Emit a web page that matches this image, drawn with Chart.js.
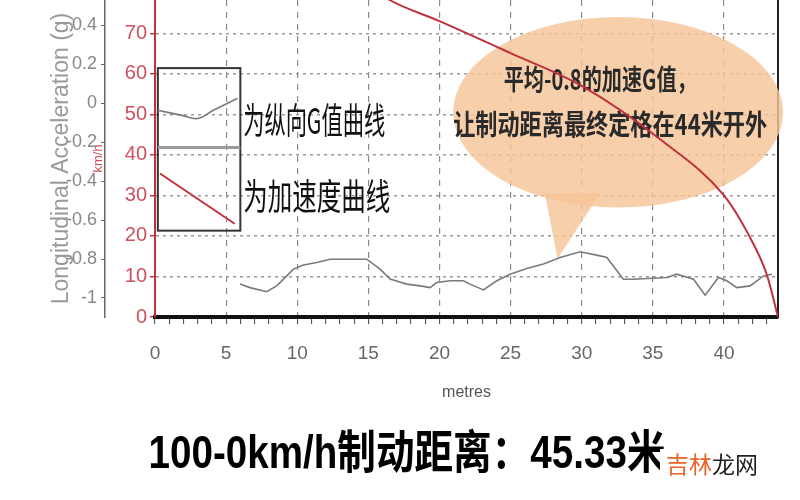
<!DOCTYPE html>
<html>
<head>
<meta charset="utf-8">
<script src="https://cdn.jsdelivr.net/npm/chart.js@4.4.0/dist/chart.umd.min.js"></script>
<style>
  html, body { margin: 0; padding: 0; background: #fff; }
  #wrap { width: 800px; height: 500px; position: relative; }
</style>
</head>
<body>
<div id="wrap"><canvas id="chart" width="800" height="500"></canvas></div>
<script>
// speed curve (km/h) against distance (m)
const speedDist = [0, 5, 10, 15, 16.5, 20, 25, 30, 35.6, 40, 41.7, 43, 43.8];
const speedKmh = [100, 94, 88, 82, 78.2, 73, 65.1, 57, 43.6, 30, 20.5, 10.6, 0];

// longitudinal G curve against distance (m)
const gDist = [5.98, 6.68, 7.85, 8.56, 9.73, 10.43, 11.37, 12.31, 14.89, 15.82, 16.53, 17.7, 18.64, 19.34,
  19.81, 20.75, 21.68, 22.15, 23.09, 24.03, 24.96, 26.14, 27.31, 28.48, 29.89, 31.29, 31.77, 32.93,
  33.64, 35.99, 36.69, 37.86, 38.68, 39.61, 40.2, 40.91, 41.84, 42.78, 43.37];
const gValue = [-0.929, -0.947, -0.968, -0.938, -0.852, -0.831, -0.818, -0.801, -0.801, -0.852, -0.903, -0.929, -0.938, -0.947,
  -0.921, -0.912, -0.912, -0.929, -0.959, -0.912, -0.878, -0.849, -0.826, -0.792, -0.763, -0.784, -0.792, -0.904,
  -0.904, -0.895, -0.878, -0.904, -0.986, -0.895, -0.912, -0.947, -0.938, -0.887, -0.878];

// little sample lines inside the legend box
const legendGDist = [0.2, 1.9, 3.0, 4.1, 5.8];
const legendGValue = [-0.036, -0.062, -0.078, -0.036, 0.026];
const legendSpeedDist = [0.35, 5.6];
const legendSpeedValue = [35.4, 23.0];

const xLabelStep = 5;
const legendLabels = ["为纵向G值曲线", "为加速度曲线"];
const noteLines = ["平均-0.8的加速G值，", "让制动距离最终定格在44米开外"];
const titleText = "100-0km/h制动距离：45.33米";

const RED = "#c0303e";
const CJK = '"Noto Sans CJK SC", sans-serif';
const LAT = '"Liberation Sans", "Noto Sans CJK SC", sans-serif';

function pts(xs, ys) { return xs.map((x, i) => ({ x: x, y: ys[i] })); }

function fixVertical(width) {
  return function (scale) {
    scale.width = width;
    scale.paddingTop = 0;
    scale.paddingBottom = 0;
  };
}

// legend box, callout bubble, big caption and watermark
const decor = {
  id: "decor",
  beforeDatasetsDraw(chart) {
    const ctx = chart.ctx;
    const xs = chart.scales.x, ys = chart.scales.y;
    const px = v => xs.getPixelForValue(v), py = v => ys.getPixelForValue(v);

    // bubble
    ctx.save();
    ctx.fillStyle = "rgba(246, 196, 152, 0.82)";
    ctx.beginPath();
    ctx.ellipse(px(32.56), py(50.5), px(32.56) - px(20.96), py(27) - py(50.5), 0, 0, Math.PI * 2);
    ctx.fill();
    ctx.beginPath();
    ctx.moveTo(px(27.4), py(30.5));
    ctx.lineTo(px(31.3), py(30.5));
    ctx.lineTo(px(28.3), py(14.4));
    ctx.closePath();
    ctx.fill();
    ctx.fillStyle = "#2a2a2a";
    ctx.textAlign = "center";
    ctx.textBaseline = "middle";
    ctx.font = "bold 28px " + CJK;
    ctx.fillText(noteLines[0], px(31.3), py(58.7), 193);
    ctx.fillText(noteLines[1], px(32.0), py(47.6), 314);

    // legend box
    ctx.strokeStyle = "#333";
    ctx.lineWidth = 2;
    ctx.strokeRect(px(0.2), py(61.4), px(6.0) - px(0.2), py(21.3) - py(61.4));
    ctx.strokeStyle = "#999";
    ctx.lineWidth = 3;
    ctx.beginPath();
    ctx.moveTo(px(0.2), py(41.8));
    ctx.lineTo(px(6.0), py(41.8));
    ctx.stroke();
    ctx.fillStyle = "#111";
    ctx.textAlign = "left";
    ctx.font = "36px " + CJK;
    ctx.fillText(legendLabels[0], px(6.2), py(48.6), 142);
    ctx.fillText(legendLabels[1], px(6.2), py(29.8), 147);
    ctx.restore();
  },
  afterDraw(chart) {
    const ctx = chart.ctx;
    ctx.save();
    ctx.textBaseline = "middle";
    ctx.textAlign = "center";
    ctx.fillStyle = "#000";
    ctx.font = "bold 46px " + LAT;
    ctx.fillText(titleText, 407, 455, 517);

    ctx.fillStyle = "#fff";
    ctx.fillRect(660, 449, 106, 30);
    ctx.font = "23px " + CJK;
    ctx.textAlign = "left";
    ctx.fillStyle = "#e8632a";
    ctx.fillText("吉林", 666, 464);
    ctx.fillStyle = "#222";
    ctx.fillText("龙网", 712, 464);
    ctx.restore();
  }
};

new Chart(document.getElementById("chart").getContext("2d"), {
  type: "line",
  data: {
    datasets: [
      { data: pts(speedDist, speedKmh), yAxisID: "y", borderColor: RED, borderWidth: 2, pointRadius: 0, cubicInterpolationMode: "monotone" },
      { data: pts(gDist, gValue), yAxisID: "yg", borderColor: "#7a7a7a", borderWidth: 1.6, pointRadius: 0, tension: 0 },
      { data: pts(legendGDist, legendGValue), yAxisID: "yg", borderColor: "#7a7a7a", borderWidth: 1.6, pointRadius: 0, tension: 0.4 },
      { data: pts(legendSpeedDist, legendSpeedValue), yAxisID: "y", borderColor: RED, borderWidth: 2, pointRadius: 0 }
    ]
  },
  options: {
    responsive: false,
    animation: false,
    layout: { padding: { top: 0, left: 0, right: 22, bottom: 88 } },
    plugins: {
      legend: { display: false },
      tooltip: { enabled: false }
    },
    scales: {
      x: {
        type: "linear",
        min: 0,
        max: 43.8,
        ticks: {
          stepSize: 1,
          autoSkip: false,
          maxRotation: 0,
          includeBounds: false,
          padding: 18,
          color: "#666",
          font: { family: LAT, size: 19 },
          callback: v => (v % xLabelStep === 0 ? String(v) : "")
        },
        grid: {
          color: c => (c.tick && c.tick.value % xLabelStep === 0 && c.tick.value !== 0 ? "#8a8a8a" : "transparent"),
          lineWidth: 1.2,
          tickColor: "#444",
          tickLength: 7,
          tickWidth: 1
        },
        border: { color: "#111", width: 4, dash: [6, 6] },
        title: {
          display: true,
          text: "metres",
          color: "#555",
          font: { family: LAT, size: 16 },
          padding: { top: 0, bottom: 10 }
        }
      },
      y: {
        type: "linear",
        position: "left",
        weight: 0,
        min: 0,
        max: 78.2,
        afterFit: fixVertical(50),
        ticks: {
          stepSize: 10,
          includeBounds: false,
          padding: 3,
          color: "#d0505e",
          font: { family: LAT, size: 20 }
        },
        grid: {
          color: c => (c.tick && c.tick.value !== 0 ? "#9a9a9a" : "transparent"),
          lineWidth: 1.4,
          tickColor: RED,
          tickLength: 5
        },
        border: { color: RED, width: 2, dash: [3, 4] },
        title: {
          display: true,
          text: "km/h",
          color: "#d0505e",
          font: { family: LAT, size: 13 },
          padding: { top: -14 }
        }
      },
      yg: {
        type: "linear",
        position: "left",
        weight: 1,
        min: -1.098,
        max: 0.531,
        afterFit: fixVertical(105),
        ticks: {
          stepSize: 0.2,
          includeBounds: false,
          padding: 4,
          color: "#888",
          font: { family: LAT, size: 18 },
          callback: v => String(Math.round(v * 10) / 10)
        },
        grid: { drawOnChartArea: false, tickColor: "#666", tickLength: 4 },
        border: { color: "#666", width: 1.5 },
        title: {
          display: true,
          text: "Longitudinal Acceleration (g)",
          color: "#999",
          font: { family: LAT, size: 23 },
          padding: { top: 48 }
        }
      },
      yr: {
        type: "linear",
        position: "right",
        min: 0,
        max: 78.2,
        afterFit: scale => { scale.width = 0; scale.paddingTop = 0; scale.paddingBottom = 0; },
        ticks: { display: false },
        grid: { drawOnChartArea: false, drawTicks: false },
        border: { color: "#222", width: 2 }
      }
    }
  },
  plugins: [decor]
});
</script>
</body>
</html>
